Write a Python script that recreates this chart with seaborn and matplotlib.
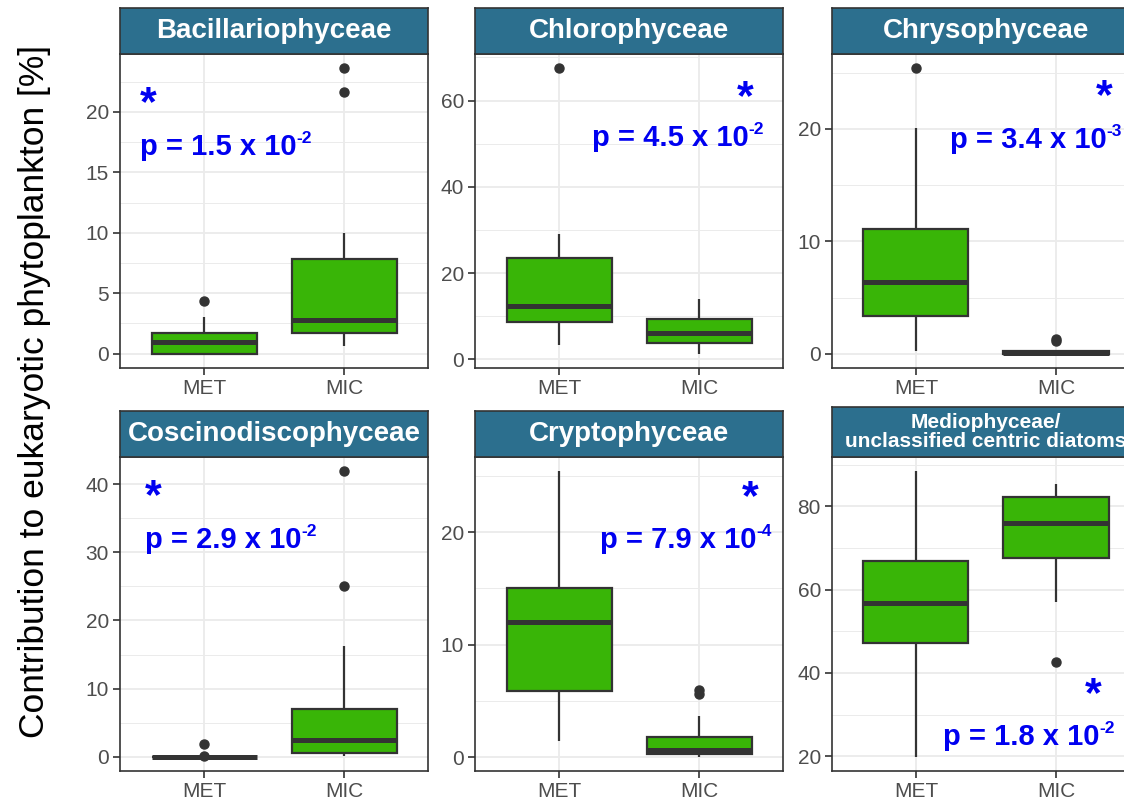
import numpy as np
import pandas as pd
import seaborn as sns
import matplotlib.pyplot as plt

# ---- data -----------------------------------------------------------------
groups = ["MET", "MIC"]

classes = [
    "Bacillariophyceae",
    "Chlorophyceae",
    "Chrysophyceae",
    "Coscinodiscophyceae",
    "Cryptophyceae",
    "Mediophyceae/\nunclassified centric diatoms",
]

# relative contribution (%) per sample
bacillario_met = [0, 0, 0, 0, 0.4, 0.8, 1.0, 1.2, 1.5, 1.7, 2.2, 3.0, 4.4]
bacillario_mic = [0.6, 0.9, 1.2, 1.5, 1.7, 2.0, 2.3, 2.6, 2.8, 3.5, 4.5, 6.2,
                  7.8, 8.8, 10.0, 21.6, 23.6]
chloro_met = [3.4, 5.0, 7.2, 8.7, 10.1, 11.5, 12.3, 15.0, 19.8, 23.6, 26.0,
              29.0, 67.5]
chloro_mic = [1.3, 2.4, 3.2, 3.9, 4.6, 5.4, 6.1, 7.0, 8.3, 9.45, 11.0, 12.6,
              13.9]
chryso_met = [0.2, 1.5, 2.6, 3.4, 4.5, 5.6, 6.35, 7.8, 9.5, 11.1, 14.0, 20.1,
              25.4]
chryso_mic = [0, 0, 0, 0, 0, 0.03, 0.05, 0.08, 0.15, 0.2, 0.25, 1.1, 1.35]
coscino_met = [0, 0, 0, 0, 0, 0, 0, 0, 0, 0, 0, 0.1, 1.9]
coscino_mic = [0.1, 0.2, 0.3, 0.45, 0.6, 1.0, 1.5, 2.0, 2.5, 3.2, 4.0, 5.5,
               7.0, 9.5, 16.3, 25.1, 41.9]
crypto_met = [1.45, 3.0, 4.6, 5.9, 8.0, 10.5, 12.0, 12.9, 13.8, 15.0, 17.5,
              21.0, 25.4]
crypto_mic = [0.05, 0.1, 0.15, 0.2, 0.27, 0.4, 0.5, 0.6, 0.65, 0.8, 1.0, 1.4,
              1.83, 2.6, 3.7, 5.65, 6.0]
medio_met = [19.9, 33.0, 42.5, 47.3, 51.0, 54.5, 56.75, 59.5, 63.0, 66.9,
             72.0, 79.5, 88.4]
medio_mic = [42.7, 57.0, 63.5, 67.7, 70.5, 73.5, 76.1, 77.8, 79.5, 82.2,
             83.6, 84.5, 85.4]

met_values = [bacillario_met, chloro_met, chryso_met, coscino_met, crypto_met,
              medio_met]
mic_values = [bacillario_mic, chloro_mic, chryso_mic, coscino_mic, crypto_mic,
              medio_mic]

y_breaks = [
    [0, 5, 10, 15, 20],
    [0, 20, 40, 60],
    [0, 10, 20],
    [0, 10, 20, 30, 40],
    [0, 10, 20],
    [20, 40, 60, 80],
]

p_mantissa = ["1.5", "4.5", "3.4", "2.9", "7.9", "1.8"]
p_exponent = ["-2", "-2", "-3", "-2", "-4", "-2"]

rows = []
for cls, met, mic in zip(classes, met_values, mic_values):
    rows += [(cls, "MET", v) for v in met]
    rows += [(cls, "MIC", v) for v in mic]
df = pd.DataFrame(rows, columns=["class", "group", "value"])

# ---- style ----------------------------------------------------------------
sns.set_theme(style="whitegrid")
plt.rcParams["font.family"] = ["Liberation Sans", "DejaVu Sans"]

GREEN = "#39b507"
STRIP = "#2c6f8e"
DARK = "#333333"
TICKTXT = "#4d4d4d"
GRID = "#ebebeb"
BLUE = "#0000f0"

W, H = 1124, 801
fig = plt.figure(figsize=(W / 100, H / 100), dpi=100)
fig.patch.set_facecolor("white")

col_left = [120, 475, 832]
panel_w = 308
row_top = [54, 457]
panel_h = 314
strip_top = [[8, 8, 8], [411, 411, 407]]

# annotation placement (axes fraction): star, p-text, p-text alignment
star_pos = [(0.091, 0.841), (0.877, 0.860), (0.883, 0.863),
            (0.107, 0.873), (0.893, 0.870), (0.847, 0.242)]
p_pos = [(0.065, 0.704, "left"), (0.938, 0.732, "right"),
         (0.383, 0.726, "left"), (0.081, 0.736, "left"),
         (0.964, 0.736, "right"), (0.919, 0.108, "right")]


def fig_rect(x0, y0, w, h):
    return [x0 / W, 1 - (y0 + h) / H, w / W, h / H]


p_labels = []  # (axes, main text, superscript text, x, y, alignment)

for i, cls in enumerate(classes):
    r, c = divmod(i, 3)
    ax = fig.add_axes(fig_rect(col_left[c], row_top[r], panel_w, panel_h))
    sub = df[df["class"] == cls]

    sns.boxplot(
        data=sub, x="group", y="value", order=groups, ax=ax,
        color=GREEN, saturation=1, width=0.75, linecolor=DARK, linewidth=1.6,
        fliersize=6.5,
        flierprops=dict(marker="o", markerfacecolor=DARK,
                        markeredgecolor=DARK),
        medianprops=dict(linewidth=3.6, color=DARK),
        capprops=dict(linewidth=0),
    )

    br = y_breaks[i]
    step = br[1] - br[0]
    minor = [b + step / 2 for b in [br[0] - step] + br]
    ax.set_yticks(br)
    ax.set_yticklabels([str(b) for b in br])
    ax.set_yticks(minor, minor=True)

    lo, hi = sub["value"].min(), sub["value"].max()
    pad = 0.05 * (hi - lo)
    ax.set_ylim(lo - pad, hi + pad)
    ax.set_xlim(-0.6, 1.6)

    ax.set_axisbelow(True)
    ax.grid(True, which="major", axis="both", color=GRID, linewidth=1.3)
    ax.grid(True, which="minor", axis="y", color=GRID, linewidth=0.7)
    ax.set_facecolor("white")
    ax.set_xlabel("")
    ax.set_ylabel("")
    for sp in ax.spines.values():
        sp.set_color(DARK)
        sp.set_linewidth(1.2)
    ax.tick_params(axis="both", which="major", length=5, width=1.2,
                   color=DARK, labelcolor=TICKTXT, labelsize=15, pad=3,
                   left=True, bottom=True)
    ax.tick_params(axis="y", which="minor", length=0)

    # significance annotation
    sx, sy = star_pos[i]
    ax.text(sx, sy, "*", transform=ax.transAxes, color=BLUE, fontsize=31,
            fontweight="bold", ha="center", va="center")
    px, py, pha = p_pos[i]
    main = ax.text(px, py, "p = " + p_mantissa[i] + " x 10",
                   transform=ax.transAxes, color=BLUE, fontsize=21,
                   fontweight="bold", ha="left", va="center")
    sup = ax.text(px, py, p_exponent[i], transform=ax.transAxes, color=BLUE,
                  fontsize=12.5, fontweight="bold", ha="left", va="center")
    p_labels.append((ax, main, sup, px, py, pha))

    # facet strip
    st = strip_top[r][c]
    sh = row_top[r] - st
    sax = fig.add_axes(fig_rect(col_left[c], st, panel_w, sh))
    sax.set_facecolor(STRIP)
    sax.set_xticks([])
    sax.set_yticks([])
    sax.grid(False)
    for sp in sax.spines.values():
        sp.set_color(DARK)
        sp.set_linewidth(1.2)
    multi = "\n" in cls
    sax.text(0.5, 0.5, cls, transform=sax.transAxes, color="white",
             fontsize=15 if multi else 20, fontweight="bold",
             ha="center", va="center", linespacing=1.0)

fig.text(35 / W, 1 - 392 / H, "Contribution to eukaryotic phytoplankton [%]",
         rotation=90, ha="center", va="center", fontsize=25.5, color="black")

# lay out "p = m x 10" with its exponent as a raised superscript
renderer = fig.canvas.get_renderer()
for ax, main, sup, px, py, pha in p_labels:
    bm = main.get_window_extent(renderer)
    bs = sup.get_window_extent(renderer)
    total = bm.width + bs.width
    ax_x, ax_y = ax.transAxes.transform((px, py))
    x0 = ax_x if pha == "left" else ax_x - total
    inv = ax.transAxes.inverted()
    main.set_position(inv.transform((x0, ax_y)))
    sup.set_position(inv.transform((x0 + bm.width, ax_y + 0.30 * bm.height)))

fig.savefig("out.png", dpi=100)
